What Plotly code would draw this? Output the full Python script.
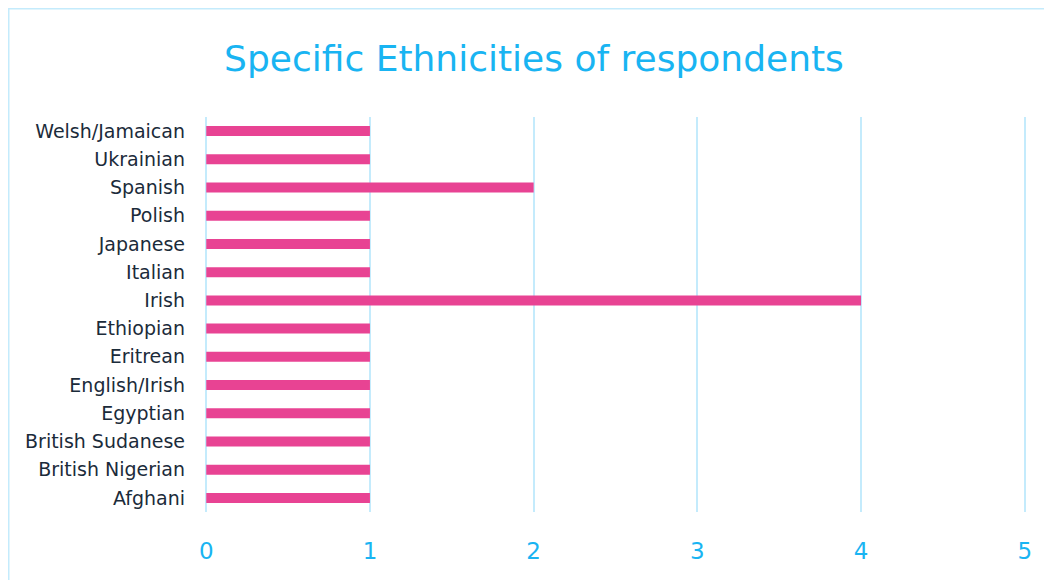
import plotly.graph_objects as go

categories = ["Afghani", "British Nigerian", "British Sudanese", "Egyptian", "English/Irish",
              "Eritrean", "Ethiopian", "Irish", "Italian", "Japanese", "Polish", "Spanish",
              "Ukrainian", "Welsh/Jamaican"]
counts = [1, 1, 1, 1, 1, 1, 1, 4, 1, 1, 1, 2, 1, 1]
x_ticks = [0, 1, 2, 3, 4, 5]

W, H = 1052, 580
OFF = 8  # page body margin
L, R, T, B = 195, 32, 117 - OFF, 76
FONT = "DejaVu Sans, Open Sans, sans-serif"
GRID = "#c4ebfc"

fig = go.Figure(go.Bar(
    x=counts, y=categories, orientation="h",
    marker=dict(color="#e84393", line=dict(width=0)),
    hoverinfo="x+y",
))

pw, ph = W - L - R, H - T - B
fig.add_shape(type="rect", xref="paper", yref="paper",
              x0=(0.5 - L) / pw, x1=1 + (R + 20) / pw,
              y0=-(B + 20) / ph, y1=1 + (T - 0.5) / ph,
              line=dict(color=GRID, width=2), fillcolor="rgba(0,0,0,0)", layer="below")

fig.update_layout(
    width=W, height=H,
    margin=dict(l=L, r=R, t=T, b=B, pad=0),
    paper_bgcolor="white", plot_bgcolor="white",
    bargap=0.645,
    showlegend=False,
    title=dict(text="Specific Ethnicities of respondents", x=0.5, xref="container", xanchor="center",
               y=1 - (58 - OFF) / H, yref="container", yanchor="middle",
               font=dict(family=FONT, size=36, color="#19b4f2")),
    font=dict(family=FONT),
)

fig.update_xaxes(range=[-0.02, 5.02], tickvals=x_ticks, showgrid=True, gridcolor=GRID, gridwidth=2,
                 zeroline=True, zerolinecolor=GRID, zerolinewidth=2, showline=False,
                 tickfont=dict(size=23, color="#19b4f2", family=FONT),
                 ticklabelstandoff=23, fixedrange=True)
fig.update_yaxes(showgrid=False, zeroline=False, showline=False,
                 tickfont=dict(size=19, color="#1b2b3a", family=FONT),
                 ticklabelstandoff=17, fixedrange=True)

fig.write_html("out.html")
